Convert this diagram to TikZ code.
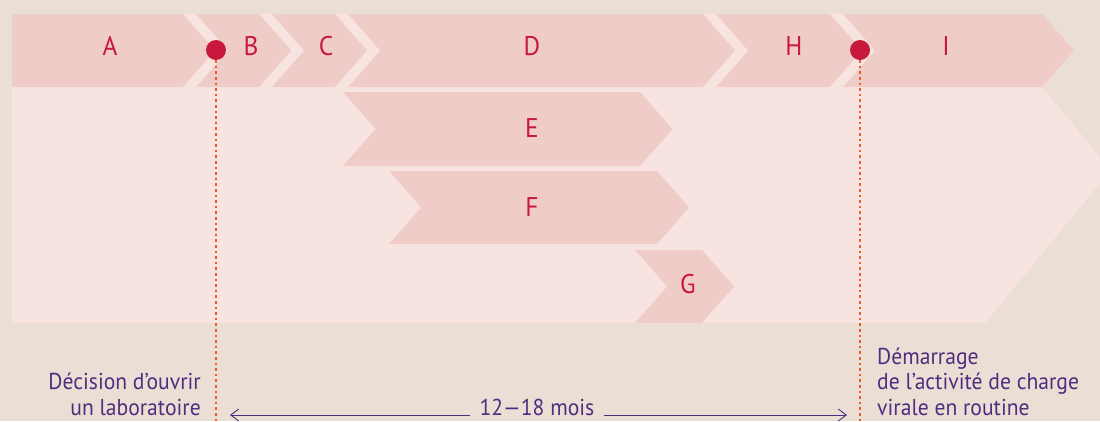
\documentclass[tikz,border=0pt]{standalone}
\usepackage{fontspec}
\setmainfont{PT Sans}[FakeStretch=0.94]
\usetikzlibrary{arrows.meta, positioning}

\definecolor{beige}{HTML}{EBDFD5}
\definecolor{palepink}{HTML}{F7E3E0}
\definecolor{rosepink}{HTML}{F0CCC8}
\definecolor{crimson}{HTML}{C8193C}
\definecolor{dotorange}{HTML}{EE5A2A}
\definecolor{textpurple}{HTML}{4F2D7F}

% chevron: left x, right x, top y, bottom y
\newcommand{\chevron}[4]{%
  \fill[rosepink] (#1,#3) -- (#2,#3) -- ({#2+0.88*(#4-#3)/2},{(#3+#4)/2}) -- (#2,#4)
    -- (#1,#4) -- ({#1+0.88*(#4-#3)/2},{(#3+#4)/2}) -- cycle;}

\begin{document}
\begin{tikzpicture}[
    x=1pt, y=-1pt,
    steplabel/.style={text=crimson, font=\fontsize{27}{30}\selectfont, anchor=base, inner sep=0pt},
    milestone/.style={circle, fill=crimson, minimum size=20pt, inner sep=0pt},
    guide/.style={dotorange, line width=2.8pt, dash pattern=on 2.6pt off 3pt},
    note/.style={text=textpurple, font=\fontsize{23}{25.5}\selectfont, inner sep=0pt},
    span/.style={textpurple, line width=0.9pt, -{Straight Barb[length=8pt, width=12pt]}}
]
    \clip (0,0) rectangle (1100,421);
    \fill[beige] (0,0) rectangle (1100,421);
    \fill[palepink] (12,14) -- (1042,14) -- (1042,87) -- (1111,170) -- (985,323) -- (12,323) -- cycle;

    % top row
    \fill[rosepink] (12,14) -- (183,14) -- (215,50.5) -- (183,87) -- (12,87) -- cycle;
    \chevron{196}{259}{14}{87}
    \chevron{272}{335}{14}{87}
    \chevron{348}{703}{14}{87}
    \chevron{716}{830}{14}{87}
    \chevron{843}{1042}{14}{87}
    % parallel steps
    \chevron{343}{640}{92}{166}
    \chevron{389}{657}{171}{244}
    \chevron{635}{702}{250}{323}

    \node[steplabel] (a) at (110,55) {A};
    \node[steplabel] (b) at (251,55) {B};
    \node[steplabel] (c) at (326,55) {C};
    \node[steplabel] (d) at (532,55) {D};
    \node[steplabel] (h) at (794,55) {H};
    \node[steplabel] (i) at (946,55) {I};
    \node[steplabel] (e) at (532,137) {E};
    \node[steplabel] (f) at (532,216) {F};
    \node[steplabel] (g) at (688,293) {G};

    \node[milestone] (start) at (216,50) {};
    \node[milestone] (routine) at (860,50) {};
    \coordinate (startfoot) at (216,421);
    \coordinate (routinefoot) at (860,421);
    \draw[guide] (start.south) -- (startfoot);
    \draw[guide] (routine.south) -- (routinefoot);

    \node[note, anchor=base east, align=right] (decision) at (201,415) {Décision d’ouvrir\\un laboratoire};
    \node[note, anchor=base west, align=left] (launch) at (877,415) {Démarrage\\de l’activité de charge\\virale en routine};
    \node[note, anchor=base, inner xsep=9pt] (duration) at (537,415) {12—18 mois};
    \coordinate (spanleft) at (230,415);
    \coordinate (spanright) at (847,415);
    \draw[span] (duration.base west) -- (spanleft);
    \draw[span] (duration.base east) -- (spanright);
\end{tikzpicture}
\end{document}
